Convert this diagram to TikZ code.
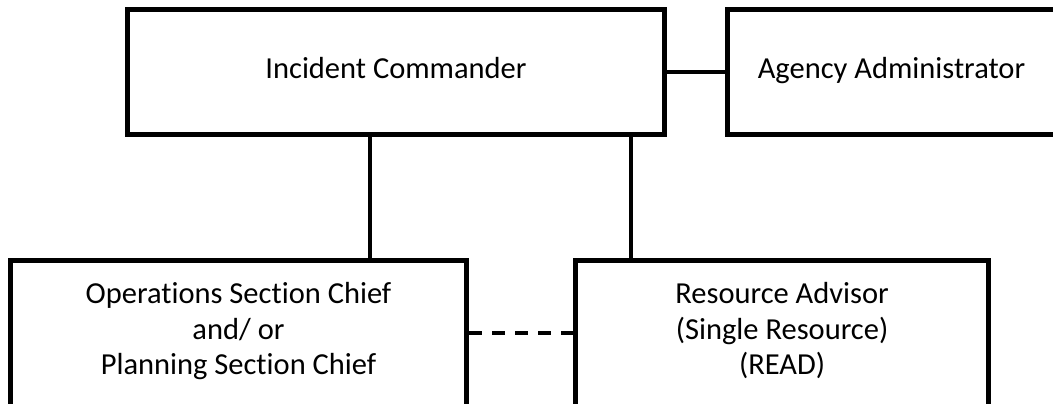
\documentclass[tikz,border=0pt]{standalone}
\usepackage{fontspec}
\setmainfont[Ligatures=NoCommon]{Carlito}
\begin{document}
\begin{tikzpicture}[x=1pt,y=-1pt,
  box/.style={draw=black,line width=5pt,fill=white,rectangle,align=center,inner sep=0pt,
    font=\fontsize{30.5}{35.5}\selectfont},
  link/.style={line width=4pt,black}]
\useasboundingbox (0,0) rectangle (1053,404);
\clip (0,0) rectangle (1053,404);
\fill[white] (0,0) rectangle (1053,404);
\node[box,minimum width=537pt,minimum height=124.5pt] (ic) at (396,71.75) {\strut Incident Commander};
\node[box,minimum width=328pt,minimum height=124.5pt] (aa) at (891.5,71.75) {\strut Agency Administrator};
\node[box,minimum width=456pt,minimum height=160pt] (ops) at (238.5,340.5) {\strut Operations Section Chief\\\strut and/ or\\\strut Planning Section Chief\rule[-27.8pt]{0pt}{0pt}};
\node[box,minimum width=413.2pt,minimum height=160pt] (ra) at (782.1,340.5) {\strut Resource Advisor\\\strut (Single Resource)\\\strut (READ)\rule[-27.8pt]{0pt}{0pt}};
\coordinate (c1) at (369.5,0);
\coordinate (c2) at (631,0);
\coordinate (c3) at (0,333);
\draw[link] (ic.east) -- (aa.west);
\draw[link] (ic.south -| c1) -- (ops.north -| c1);
\draw[link] (ic.south -| c2) -- (ra.north -| c2);
\draw[link,dash pattern=on 13pt off 10pt] (ops.east |- c3) -- (ra.west |- c3);
\end{tikzpicture}
\end{document}
